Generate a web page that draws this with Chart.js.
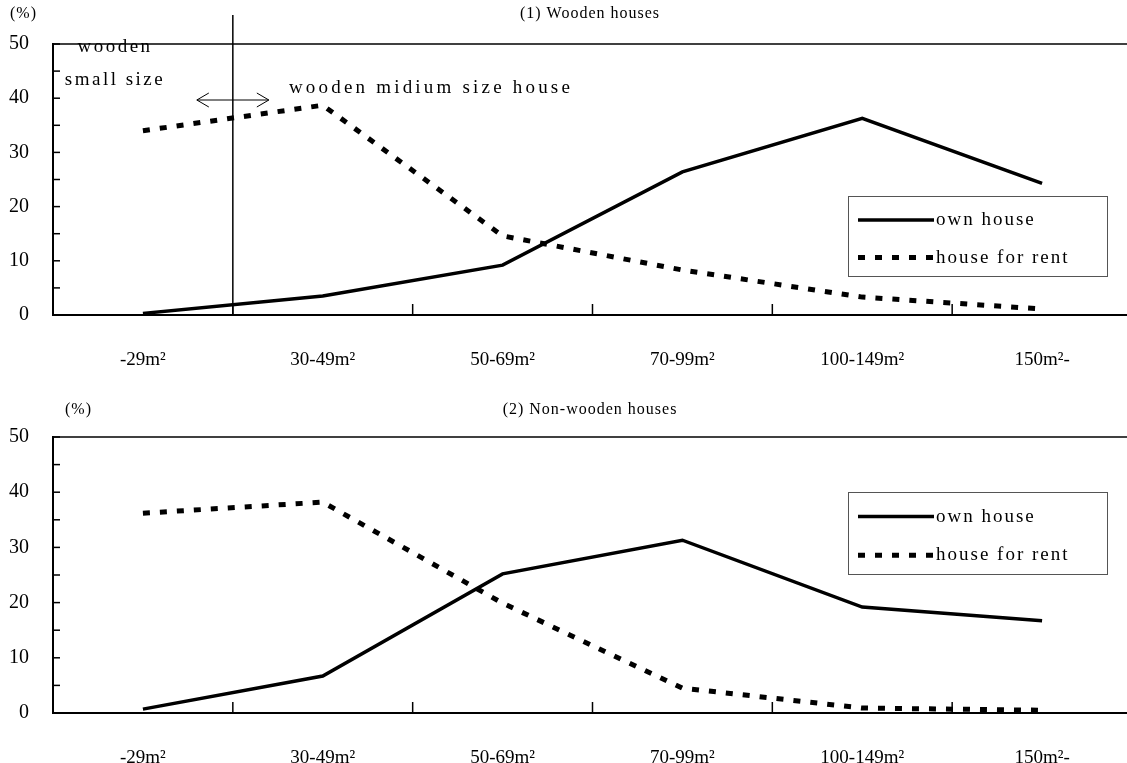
<!DOCTYPE html>
<html>
<head>
<meta charset="utf-8">
<script src="https://cdn.jsdelivr.net/npm/chart.js@4.4.0/dist/chart.umd.min.js"></script>
<style>
  html, body { margin: 0; padding: 0; background: #fff; overflow: hidden; }
  .panel { position: absolute; left: 0; width: 1132px; height: 380px; }
</style>
</head>
<body>
<div class="panel" style="top:0"><canvas id="woodChart"></canvas></div>
<div class="panel" style="top:385px"><canvas id="nonWoodChart"></canvas></div>
<script>
// floor area classes
const categories = ['-29m²', '30-49m²', '50-69m²', '70-99m²', '100-149m²', '150m²-'];
// (1) wooden houses, %
const woodOwn  = [0.3, 3.5, 9.2, 26.4, 36.3, 24.3];
const woodRent = [34.0, 38.7, 14.6, 8.3, 3.3, 1.1];
// (2) non-wooden houses, %
const nonWoodOwn  = [0.7, 6.7, 25.2, 31.3, 19.2, 16.7];
const nonWoodRent = [36.2, 38.2, 19.9, 4.5, 0.9, 0.5];
const yMin = 0, yMax = 50, yMinorStep = 5, yLabelStep = 10;
const seriesNames = ['own house', 'house for rent'];

const SERIF = '"Liberation Serif", "DejaVu Serif", serif';

// ticks pointing inward + top frame line + titles + legend box
const framePlugin = {
  id: 'frame',
  afterDraw(chart, args, opts) {
    const ctx = chart.ctx;
    const x = chart.scales.x, y = chart.scales.y;
    const a = chart.chartArea;
    ctx.save();
    ctx.strokeStyle = '#000';
    // top line
    ctx.lineWidth = 1.5;
    ctx.beginPath();
    ctx.moveTo(a.left, y.getPixelForValue(yMax));
    ctx.lineTo(a.right, y.getPixelForValue(yMax));
    ctx.stroke();
    // y ticks
    for (let v = yMin; v <= yMax; v += yMinorStep) {
      const py = y.getPixelForValue(v);
      ctx.beginPath();
      ctx.moveTo(a.left, py);
      ctx.lineTo(a.left + 7, py);
      ctx.stroke();
    }
    // x ticks between categories
    for (let i = 0; i < categories.length - 1; i++) {
      const px = (x.getPixelForValue(i) + x.getPixelForValue(i + 1)) / 2;
      ctx.beginPath();
      ctx.moveTo(px, a.bottom);
      ctx.lineTo(px, a.bottom - 11);
      ctx.stroke();
    }
    // titles
    ctx.fillStyle = '#000';
    ctx.textBaseline = 'middle';
    ctx.font = '16px ' + SERIF;
    ctx.letterSpacing = '1px';
    ctx.textAlign = 'left';
    ctx.fillText('(%)', opts.unitX, opts.titleY);
    ctx.textAlign = 'center';
    ctx.fillText(opts.title, 590, opts.titleY);

    // legend
    const lg = opts.legend;
    ctx.strokeStyle = '#555';
    ctx.lineWidth = 1;
    ctx.strokeRect(lg.x + 0.5, lg.y + 0.5, lg.w, lg.h);
    const rows = [lg.y + lg.h * 0.3, lg.y + lg.h * 0.77];
    ctx.strokeStyle = '#000';
    chart.data.datasets.forEach((ds, i) => {
      ctx.lineWidth = ds.borderWidth;
      ctx.setLineDash(ds.borderDash || []);
      ctx.beginPath();
      ctx.moveTo(lg.x + 10, rows[i]);
      ctx.lineTo(lg.x + 86, rows[i]);
      ctx.stroke();
      ctx.setLineDash([]);
      ctx.font = '19px ' + SERIF;
      ctx.letterSpacing = '2px';
      ctx.textAlign = 'left';
      ctx.fillText(ds.label, lg.x + 88, rows[i]);
    });
    ctx.restore();
  }
};

// size class note in the wooden panel
const notePlugin = {
  id: 'note',
  afterDraw(chart) {
    const ctx = chart.ctx;
    const x = chart.scales.x;
    const a = chart.chartArea;
    const px = (x.getPixelForValue(0) + x.getPixelForValue(1)) / 2;
    ctx.save();
    ctx.strokeStyle = '#000';
    ctx.lineWidth = 1.5;
    ctx.beginPath();
    ctx.moveTo(px, 15);
    ctx.lineTo(px, a.bottom);
    ctx.stroke();
    // double arrow
    const ay = 100, half = 36;
    ctx.lineWidth = 1;
    ctx.beginPath();
    ctx.moveTo(px - half, ay); ctx.lineTo(px + half, ay);
    ctx.moveTo(px - half + 12, ay - 7); ctx.lineTo(px - half, ay); ctx.lineTo(px - half + 12, ay + 7);
    ctx.moveTo(px + half - 12, ay - 7); ctx.lineTo(px + half, ay); ctx.lineTo(px + half - 12, ay + 7);
    ctx.stroke();
    ctx.fillStyle = '#000';
    ctx.font = '19px ' + SERIF;
    ctx.textAlign = 'center';
    ctx.textBaseline = 'middle';
    ctx.letterSpacing = '2.5px';
    ctx.fillText('wooden', 115, 47);
    ctx.fillText('small size', 115, 80);
    ctx.letterSpacing = '3.2px';
    ctx.fillText('wooden midium size house', 431, 88);
    ctx.restore();
  }
};

function makeChart(id, own, rent, cfg) {
  const ctx = document.getElementById(id).getContext('2d');
  return new Chart(ctx, {
    type: 'line',
    data: {
      labels: categories,
      datasets: [{
        label: seriesNames[0],
        data: own,
        borderColor: '#000',
        borderWidth: 3.5,
        pointRadius: 0,
        tension: 0,
        fill: false
      }, {
        label: seriesNames[1],
        data: rent,
        borderColor: '#000',
        borderWidth: 5,
        borderDash: [7, 10],
        borderCapStyle: 'butt',
        pointRadius: 0,
        tension: 0,
        fill: false
      }]
    },
    options: {
      responsive: true,
      maintainAspectRatio: false,
      animation: false,
      layout: { padding: { top: cfg.top, left: 0, right: 0, bottom: 0 } },
      plugins: {
        legend: { display: false },
        tooltip: { enabled: false },
        frame: cfg.frame
      },
      scales: {
        x: {
          offset: true,
          grid: { display: false, offset: true },
          border: { color: '#000', width: 2 },
          ticks: { color: '#000', font: { family: SERIF, size: 19 }, padding: 26, maxRotation: 0 },
          afterFit(s) { s.height = cfg.xHeight; }
        },
        y: {
          min: yMin,
          max: yMax,
          grid: { display: false },
          border: { color: '#000', width: 2 },
          ticks: {
            stepSize: yMinorStep,
            color: '#000',
            font: { family: SERIF, size: 20 },
            padding: 16,
            callback: v => (v % yLabelStep === 0 ? v : '')
          },
          afterFit(s) { s.width = 53; }
        }
      }
    },
    plugins: cfg.extra ? [framePlugin, cfg.extra] : [framePlugin]
  });
}

document.addEventListener('DOMContentLoaded', function () {
  makeChart('woodChart', woodOwn, woodRent, {
    top: 44, xHeight: 65,
    frame: { title: '(1) Wooden houses', unitX: 10, titleY: 14, legend: { x: 848, y: 196, w: 259, h: 80 } },
    extra: notePlugin
  });
  makeChart('nonWoodChart', nonWoodOwn, nonWoodRent, {
    top: 52, xHeight: 52,
    frame: { title: '(2) Non-wooden houses', unitX: 65, titleY: 25, legend: { x: 848, y: 107, w: 259, h: 82 } }
  });
});
</script>
</body>
</html>
